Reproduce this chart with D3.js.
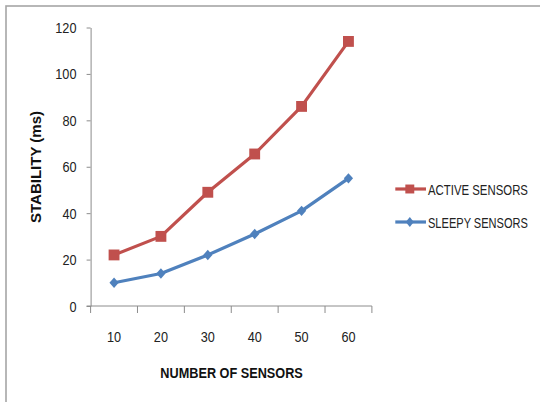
<!DOCTYPE html>
<html>
<head>
<meta charset="utf-8">
<script src="https://cdn.jsdelivr.net/npm/d3@7"></script>
<style>
  html, body { margin: 0; padding: 0; background: #fff; }
  svg { display: block; font-family: "Liberation Sans", Arial, sans-serif; }
</style>
</head>
<body>
<svg id="chart" width="540" height="402"></svg>
<script>
// Sensor counts on the x axis
const categories = ["10", "20", "30", "40", "50", "60"];
// Stability in milliseconds for each sensor count
const activeSensors = [22, 30, 49, 65.5, 86, 114];
const sleepySensors = [10, 14, 22, 31, 41, 55];
const yTicks = [0, 20, 40, 60, 80, 100, 120];
const seriesNames = ["ACTIVE SENSORS", "SLEEPY SENSORS"];
const colors = ["#C0504D", "#4F81BD"];

const svg = d3.select("#chart");
const plot = { left: 90.6, right: 371.9, top: 27.5, bottom: 306 };
const squeeze = 0.82; // condensed look for horizontal text

// Horizontal text drawn with a condensed horizontal scale
function narrowText(parent, px, py, str, opts) {
  const t = parent.append("text")
    .attr("transform", `translate(${px},${py}) scale(${squeeze},1)`)
    .attr("text-anchor", opts.anchor || "start")
    .attr("font-size", opts.size || 15)
    .attr("font-weight", opts.weight || "normal")
    .attr("fill", opts.fill || "#222")
    .text(str);
  return t;
}

// Outer chart frame
svg.append("rect")
  .attr("x", 6).attr("y", 6)
  .attr("width", 560).attr("height", 420)
  .attr("fill", "none").attr("stroke", "#a6a6a6").attr("stroke-width", 1.6);

const x = d3.scaleBand().domain(categories).range([plot.left, plot.right]).padding(0);
const y = d3.scaleLinear().domain([0, 120]).range([plot.bottom, plot.top]);

const axisColor = "#8c8c8c";

// Y axis
const yAxis = svg.append("g")
  .attr("transform", `translate(${plot.left},0)`)
  .call(d3.axisLeft(y).tickValues(yTicks).tickSize(4).tickFormat("").tickSizeOuter(0));
yAxis.select(".domain").attr("stroke", axisColor).attr("stroke-width", 1);
yAxis.selectAll(".tick line").attr("stroke", axisColor);
yTicks.forEach(v => {
  narrowText(svg, 76.5, y(v) + 5.5, String(v), { anchor: "end", size: 15.5 });
});

// X axis line with tick marks on category boundaries
const xg = svg.append("g");
xg.append("line")
  .attr("x1", plot.left - 4).attr("x2", plot.right)
  .attr("y1", y(0)).attr("y2", y(0))
  .attr("stroke", axisColor).attr("stroke-width", 1);
const bounds = categories.map(c => x(c)).concat([x.range()[1]]);
xg.selectAll("line.tk").data(bounds).join("line")
  .attr("class", "tk")
  .attr("x1", d => d).attr("x2", d => d)
  .attr("y1", y(0)).attr("y2", y(0) + 7)
  .attr("stroke", axisColor).attr("stroke-width", 1);
categories.forEach(c => {
  narrowText(xg, x(c) + x.bandwidth() / 2, 341.7, c, { anchor: "middle", size: 15.5 });
});

// Axis titles
narrowText(svg, 231.6, 378, "NUMBER OF SENSORS", { anchor: "middle", size: 15.5, weight: "bold", fill: "#111" });

svg.append("text")
  .attr("transform", "translate(41,167) rotate(-90)")
  .attr("text-anchor", "middle")
  .attr("font-size", 15).attr("font-weight", "bold")
  .attr("fill", "#111")
  .text("STABILITY (ms)");

// Series lines and markers
const series = [activeSensors, sleepySensors];
const line = d3.line()
  .x((d, i) => x(categories[i]) + x.bandwidth() / 2)
  .y(d => y(d));

const square = d3.symbol().type(d3.symbolSquare).size(118);
const diamond = "M0,-5.2L4.6,0L0,5.2L-4.6,0Z";

series.forEach((vals, s) => {
  svg.append("path")
    .datum(vals)
    .attr("d", line)
    .attr("fill", "none")
    .attr("stroke", colors[s])
    .attr("stroke-width", 3.2)
    .attr("stroke-linejoin", "round");
  svg.selectAll(null).data(vals).join("path")
    .attr("transform", (d, i) => `translate(${x(categories[i]) + x.bandwidth() / 2},${y(d)})`)
    .attr("d", s === 0 ? square() : diamond)
    .attr("fill", colors[s]);
});

// Legend: labels condensed to a common width
const legendY = [189, 222];
const legendTextWidth = 100;
seriesNames.forEach((name, s) => {
  const g = svg.append("g");
  g.append("line")
    .attr("x1", 395.3).attr("x2", 426)
    .attr("y1", legendY[s]).attr("y2", legendY[s])
    .attr("stroke", colors[s]).attr("stroke-width", 3.2);
  g.append("path")
    .attr("transform", `translate(409.8,${legendY[s]})`)
    .attr("d", s === 0 ? d3.symbol().type(d3.symbolSquare).size(80)() : "M0,-5L4,0L0,5L-4,0Z")
    .attr("fill", colors[s]);
  const t = g.append("text")
    .attr("font-size", 15.5)
    .attr("fill", "#222")
    .text(name);
  const natural = t.node().getComputedTextLength();
  t.attr("transform", `translate(428,${legendY[s] + 5.6}) scale(${legendTextWidth / natural},1)`);
});
</script>
</body>
</html>
